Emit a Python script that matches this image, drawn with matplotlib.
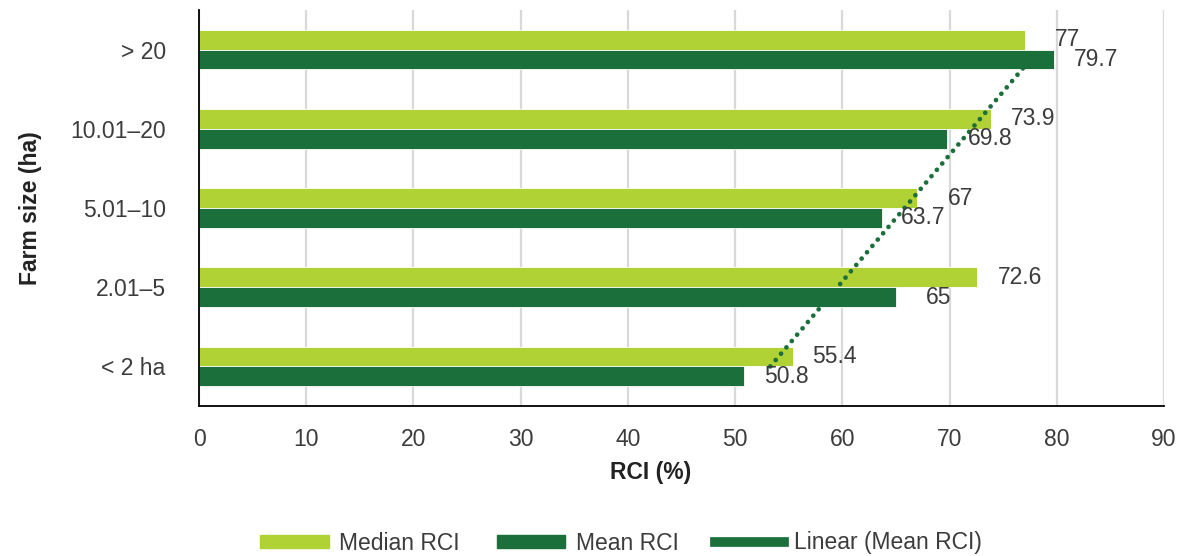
import numpy as np
import matplotlib
matplotlib.use("Agg")
import matplotlib.pyplot as plt
from matplotlib.patches import Patch
from matplotlib.lines import Line2D

## farm size classes, bottom to top
farm_sizes = ["< 2 ha", "2.01–5", "5.01–10", "10.01–20", "> 20"]
median_rci = [55.4, 72.6, 67, 73.9, 77]
mean_rci = [50.8, 65, 63.7, 69.8, 79.7]

## label nudges (pixels to the right of the bar end)
median_dx = [19, 20, 30, 20, 30]
mean_dx = [20, 30, 19, 20, 20]

light_green = "#b1d235"
dark_green = "#1a6f3a"
text_grey = "#3c3c3c"

plt.rcParams['font.family'] = ['Liberation Sans', 'DejaVu Sans']

fig = plt.figure(figsize=(11.81, 5.56), dpi=100)
ax = fig.add_axes([199/1181, 1-406/556, 965/1181, 396/556])

y = np.arange(len(farm_sizes))
h = 0.25
ax.barh(y + h/2, median_rci, height=h, color=light_green, edgecolor="white", linewidth=0.6, zorder=2)
ax.barh(y - h/2, mean_rci, height=h, color=dark_green, edgecolor="white", linewidth=0.6, zorder=2)

# linear trend of the mean values across the size classes
k, b = np.polyfit(y, mean_rci, 1)
ax.plot(k*y + b, y, color=dark_green, lw=3.4, linestyle=(0, (0.01, 1.75)),
        dash_capstyle="round", zorder=4)

for i in range(len(y)):
    ax.annotate(f"{median_rci[i]:g}", (median_rci[i], y[i] + h/2), xytext=(median_dx[i], 0),
                textcoords="offset pixels", ha="left", va="center", fontsize=16.5,
                color=text_grey, zorder=5)
    ax.annotate(f"{mean_rci[i]:g}", (mean_rci[i], y[i] - h/2), xytext=(mean_dx[i], 0),
                textcoords="offset pixels", ha="left", va="center", fontsize=16.5,
                color=text_grey, zorder=5)

ax.set_xlim(0, 90)
ax.set_ylim(-0.5, len(farm_sizes) - 0.5)
ax.set_xticks(np.arange(0, 91, 10))
ax.set_yticks(y)
ax.set_yticklabels(farm_sizes)
ax.tick_params(axis="y", length=0, pad=24, labelsize=16.5, labelcolor=text_grey)
ax.tick_params(axis="x", length=0, pad=16, labelsize=16.5, labelcolor=text_grey)
for t in ax.get_xticklabels():
    t.set_family(['Liberation Sans Narrow', 'Liberation Sans'])

ax.grid(axis="x", color="#d9d9d9", lw=1.6, zorder=0)
ax.set_axisbelow(True)
for s in ["top", "right"]:
    ax.spines[s].set_visible(False)
ax.spines["left"].set_linewidth(1.3)
ax.spines["bottom"].set_linewidth(1.3)

ax.set_xlabel("RCI (%)", fontsize=16.5, fontweight="bold", color="#222222")
ax.xaxis.set_label_coords((651-199)/965, -0.139)
ax.set_ylabel("Farm size (ha)", fontsize=16.5, fontweight="bold", color="#222222")
ax.yaxis.set_label_coords(-(199-42)/965, 0.5)

handles = [Patch(color=light_green), Patch(color=dark_green),
           Line2D([], [], color=dark_green, lw=7)]
fig.legend(handles, ["Median RCI", "Mean RCI", "Linear (Mean RCI)"], loc="center",
           bbox_to_anchor=(0.526, 1-543/556), ncol=3, frameon=False, fontsize=16.5,
           handlelength=3.0, handleheight=0.5, handletextpad=0.45, columnspacing=1.6,
           labelcolor=text_grey)

fig.savefig("out.png", dpi=100)
